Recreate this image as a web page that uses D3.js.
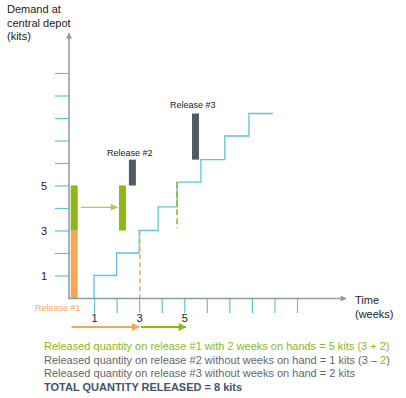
<!DOCTYPE html>
<html>
<head>
<meta charset="utf-8">
<script src="https://cdn.jsdelivr.net/npm/d3@7"></script>
<style>
  body { margin: 0; background: #fff; }
  svg { font-family: "Liberation Sans", Arial, sans-serif; }
</style>
</head>
<body>
<svg id="chart" width="406" height="398"></svg>
<script>
// demand steps: week where demand steps up, cumulative kits after the step
const stepWeeks = [1, 2, 3, 3.84, 4.68, 5.74, 6.8, 7.87, 8.93];
const stepLevels = [1, 2, 3, 4.05, 5.15, 6.15, 7.2, 8.2, 8.2];

const yTicks = [1, 2, 3, 4, 5, 6, 7, 8, 9, 10];
const yLabels = [1, 3, 5];
const xTicks = [1, 2, 3, 4, 5, 6, 7, 8, 9, 10];
const xLabels = [1, 3, 5];

// released quantities (bars): week position, from kits, to kits, kind
const barWeeks = [0.12, 0.12, 2.26, 2.7, 5.5];
const barFrom = [0, 3, 3, 5, 6.15];
const barTo = [3, 5, 5, 6.15, 8.2];
const barKind = ["orange", "green", "green", "dark", "dark"];

const releaseNames = ["Release #1", "Release #2", "Release #3"];

const noteLines = [
  "Released quantity on release #1 with 2 weeks on hands = 5 kits (3 + 2)",
  "Released quantity on release #2 without weeks on hand = 1 kits (3 \u2013 ",
  "Released quantity on release #3 without weeks on hand = 2 kits",
  "TOTAL QUANTITY RELEASED = 8 kits"
];

const colors = {
  cyan: "#5cc6d6",
  axis: "#8e9aa6",
  green: "#8cba14",
  lightGreen: "#a6cc55",
  orange: "#f4a75a",
  dark: "#4f5b67",
  text: "#222",
  gray: "#666",
  navy: "#44546a"
};

const svg = d3.select("#chart");

const x = d3.scaleLinear().domain([0, 10]).range([71.5, 297]);
const y = d3.scaleLinear().domain([0, 10]).range([298, 73]);

const defs = svg.append("defs");
function marker(id, color, w, h) {
  defs.append("marker")
    .attr("id", id)
    .attr("viewBox", "0 0 10 10")
    .attr("refX", 9).attr("refY", 5)
    .attr("markerWidth", w).attr("markerHeight", h)
    .attr("markerUnits", "userSpaceOnUse")
    .attr("orient", "auto")
    .append("path")
    .attr("d", "M0,0L10,5L0,10Z")
    .attr("fill", color);
}
marker("arrAxis", colors.axis, 7, 6);
marker("arrGreen", colors.green, 9, 8);
marker("arrLight", colors.lightGreen, 8, 7);
marker("arrOrange", colors.orange, 9, 8);

// y axis ticks
const yAxis = svg.append("g")
  .attr("transform", "translate(69,0)")
  .call(d3.axisLeft(y).tickValues(yTicks).tickSize(14).tickPadding(8)
    .tickFormat(d => yLabels.includes(d) ? d : ""));
yAxis.select(".domain").remove();
yAxis.selectAll(".tick line").attr("stroke", colors.cyan).attr("stroke-width", 1.2);
yAxis.selectAll(".tick text").attr("fill", colors.text).style("font-size", "11px");

// x axis ticks
const xAxis = svg.append("g")
  .attr("transform", "translate(0,298)")
  .call(d3.axisBottom(x).tickValues(xTicks).tickSize(15).tickPadding(1)
    .tickFormat(d => xLabels.includes(d) ? d : ""));
xAxis.select(".domain").remove();
xAxis.selectAll(".tick line").attr("stroke", colors.cyan).attr("stroke-width", 1.2);
xAxis.selectAll(".tick text").attr("fill", colors.text).style("font-size", "11px");

// demand step line
const stepData = [{ w: stepWeeks[0], v: 0 }].concat(stepWeeks.map((w, i) => ({ w: w, v: stepLevels[i] })));
svg.append("path")
  .datum(stepData)
  .attr("fill", "none")
  .attr("stroke", colors.cyan)
  .attr("stroke-width", 1.3)
  .attr("d", d3.line().x(d => x(d.w)).y(d => y(d.v)).curve(d3.curveStepAfter));

// bars
const barColor = { orange: colors.orange, green: colors.green, dark: colors.dark };
svg.append("g").selectAll("rect")
  .data(barWeeks.map((w, i) => ({ w: w, from: barFrom[i], to: barTo[i], kind: barKind[i] })))
  .join("rect")
  .attr("x", d => x(d.w) - 3.5)
  .attr("width", 7)
  .attr("y", d => y(d.to))
  .attr("height", d => y(d.from) - y(d.to))
  .attr("fill", d => barColor[d.kind]);

// dashed guides
svg.append("line")
  .attr("x1", x(3.03)).attr("x2", x(3.03))
  .attr("y1", y(3)).attr("y2", y(0) + 1)
  .attr("stroke", colors.orange).attr("stroke-width", 1.5)
  .attr("stroke-dasharray", "5,3");
svg.append("line")
  .attr("x1", x(4.68)).attr("x2", x(4.68))
  .attr("y1", y(5.15)).attr("y2", y(3.1))
  .attr("stroke", colors.green).attr("stroke-width", 1.5)
  .attr("stroke-dasharray", "6,3");

// axes lines with arrows
svg.append("line")
  .attr("x1", 69).attr("y1", 299).attr("x2", 69).attr("y2", 33)
  .attr("stroke", colors.axis).attr("stroke-width", 1.5)
  .attr("marker-end", "url(#arrAxis)");
svg.append("line")
  .attr("x1", 68).attr("y1", 298.5).attr("x2", 346).attr("y2", 298.5)
  .attr("stroke", colors.axis).attr("stroke-width", 1.5)
  .attr("marker-end", "url(#arrAxis)");

// arrows
svg.append("line")
  .attr("x1", x(0.42)).attr("x2", x(2.02))
  .attr("y1", y(4.03)).attr("y2", y(4.03))
  .attr("stroke", colors.lightGreen).attr("stroke-width", 1.2)
  .attr("marker-end", "url(#arrLight)");
svg.append("line")
  .attr("x1", x(0)).attr("x2", x(3))
  .attr("y1", 327).attr("y2", 327)
  .attr("stroke", colors.orange).attr("stroke-width", 2)
  .attr("marker-end", "url(#arrOrange)");
svg.append("line")
  .attr("x1", x(3.08)).attr("x2", x(5.07))
  .attr("y1", 327).attr("y2", 327)
  .attr("stroke", colors.green).attr("stroke-width", 2)
  .attr("marker-end", "url(#arrGreen)");

// release labels
svg.append("text").attr("x", 35).attr("y", 310.5)
  .style("font-size", "9px").attr("fill", colors.orange).text(releaseNames[0]);
svg.append("text").attr("x", 107).attr("y", 155.5)
  .style("font-size", "9px").attr("fill", colors.text).text(releaseNames[1]);
svg.append("text").attr("x", 170).attr("y", 107.5)
  .style("font-size", "9px").attr("fill", colors.text).text(releaseNames[2]);

// axis titles
const yTitle = ["Demand at", "central depot", "(kits)"];
svg.append("g").selectAll("text")
  .data(yTitle)
  .join("text")
  .attr("x", 7).attr("y", (d, i) => 13 + i * 13.5)
  .style("font-size", "11px").attr("fill", colors.text)
  .text(d => d);
svg.append("text").attr("x", 355).attr("y", 304)
  .style("font-size", "11px").attr("fill", colors.text).text("Time");
svg.append("text").attr("x", 355).attr("y", 317.5)
  .style("font-size", "11px").attr("fill", colors.text).text("(weeks)");

// notes
const noteY = [350, 364, 377, 391];
svg.append("text").attr("x", 44).attr("y", noteY[0])
  .style("font-size", "11px").attr("fill", colors.green).text(noteLines[0]);
const l2 = svg.append("text").attr("x", 44).attr("y", noteY[1])
  .style("font-size", "11px").attr("fill", colors.gray);
l2.append("tspan").text(noteLines[1]);
l2.append("tspan").attr("fill", colors.green).text("2");
l2.append("tspan").text(")");
svg.append("text").attr("x", 44).attr("y", noteY[2])
  .style("font-size", "11px").attr("fill", colors.gray).text(noteLines[2]);
svg.append("text").attr("x", 44).attr("y", noteY[3])
  .style("font-size", "11px").style("font-weight", "bold")
  .attr("fill", colors.navy).text(noteLines[3]);
</script>
</body>
</html>
